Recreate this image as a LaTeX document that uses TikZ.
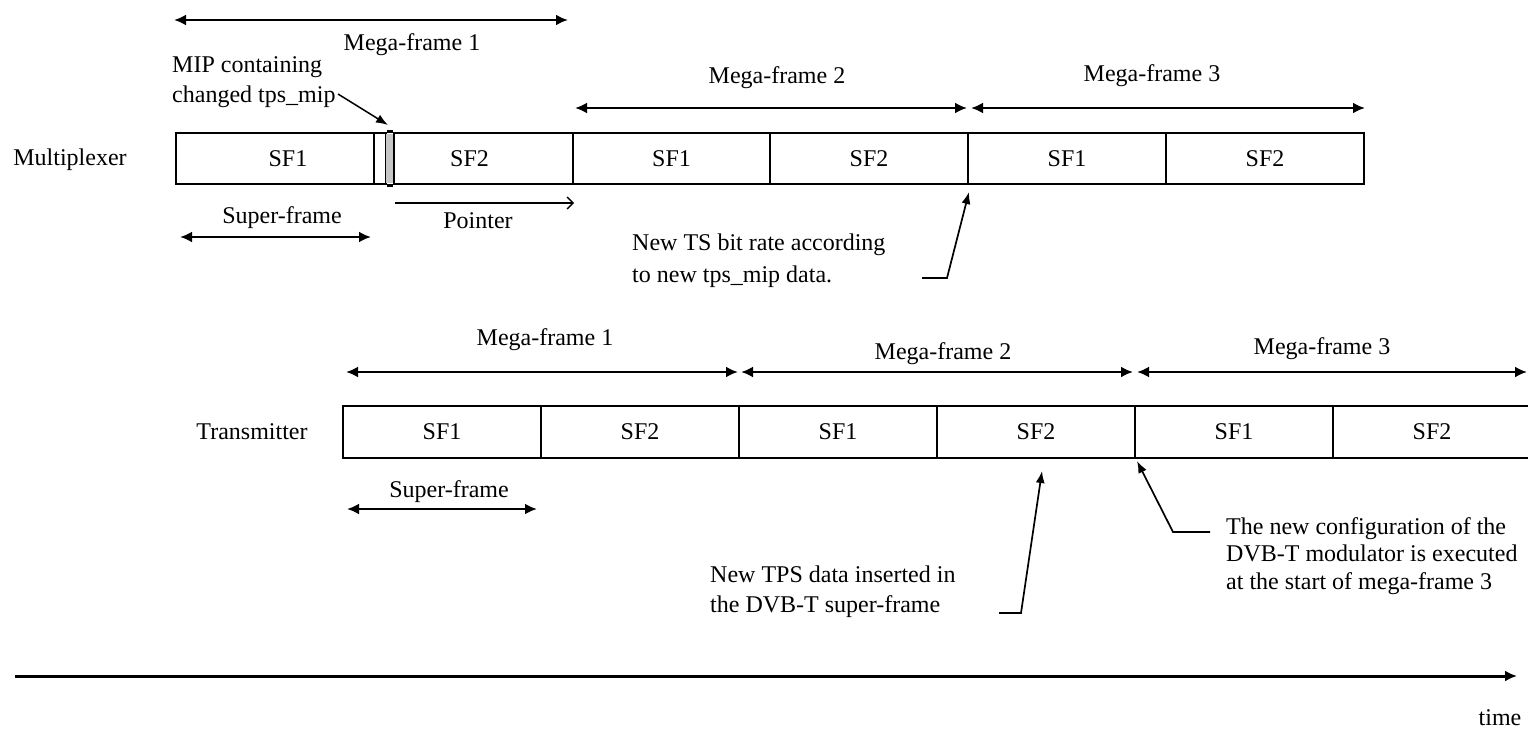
\documentclass[tikz,border=0pt]{standalone}
\usepackage{fontspec}
\setmainfont{Liberation Serif}
\usetikzlibrary{arrows.meta}
\begin{document}
\begin{tikzpicture}[x=1pt,y=-1pt,
  cell/.style={draw,line width=2.7pt,minimum height=51pt,inner sep=0pt,font=\fontsize{24}{28}\selectfont},
  lbl/.style={inner sep=0pt,font=\fontsize{24}{28}\selectfont},
  dim/.style={line width=2.6pt,{Latex[length=12pt,width=11pt]}-{Latex[length=12pt,width=11pt]}},
  annot/.style={line width=1.7pt,-{Latex[length=12pt,width=9pt]}},
  ptr/.style={line width=1.4pt,-{Straight Barb[length=6pt,width=12pt]}},
]
\useasboundingbox (0,0) rectangle (1528,728);
% ---------------- Multiplexer ----------------
\node[lbl] (mux) at (70,160) {Multiplexer};
\node[cell,minimum width=198pt] (m1) at (275,158.5) {\hspace*{26pt}SF1};
\node[cell,minimum width=12pt] (mgap) at (380,158.5) {};
\node[fill=gray!45,minimum width=8pt,minimum height=49pt,inner sep=0pt] (mip) at (390,158.5) {};
\node[cell,minimum width=179pt] (m2) at (483.5,158.5) {SF2\hspace*{28pt}};
\draw[line width=2.7pt] (mgap.north east) -- (m2.north west);
\draw[line width=2.7pt] (mgap.south east) -- (m2.south west);
\draw[line width=1pt] (mip.north west) -- (mip.south west);
\node[cell,minimum width=197pt] (m3) at (671.5,158.5) {SF1};
\node[cell,minimum width=198pt] (m4) at (869,158.5) {SF2};
\node[cell,minimum width=198pt] (m5) at (1067,158.5) {SF1};
\node[cell,minimum width=198pt] (m6) at (1265,158.5) {SF2};
% mega-frames (multiplexer)
\coordinate (mf1a) at (174,20); \coordinate (mf1b) at (568,20);
\draw[dim] (mf1a) -- (mf1b);
\node[lbl] (mf1t) at (412,45) {Mega-frame 1};
\coordinate (mf2a) at (575,108); \coordinate (mf2b) at (967,108);
\draw[dim] (mf2a) -- (mf2b);
\node[lbl] (mf2t) at (777,78) {Mega-frame 2};
\coordinate (mf3a) at (971,108); \coordinate (mf3b) at (1365,108);
\draw[dim] (mf3a) -- (mf3b);
\node[lbl] (mf3t) at (1152,76) {Mega-frame 3};
% super-frame and pointer
\coordinate (sfa) at (180,237); \coordinate (sfb) at (371,237);
\draw[dim] (sfa) -- (sfb);
\node[lbl] (sft) at (282,218) {Super-frame};
\coordinate (pa) at (395,203); \coordinate (pb) at (574,203);
\draw[ptr] (pa) -- (pb);
\node[lbl] (pt) at (478,221) {Pointer};
% MIP annotation
\node[lbl,anchor=west,align=left,font=\fontsize{24}{30}\selectfont] (miptext) at (172,82) {MIP containing\\changed tps\_mip};
\coordinate (mipA) at (338,94); \coordinate (mipB) at (388,125);
\draw[annot,line width=1.5pt] (mipA) -- (mipB);
% TS bit rate annotation
\node[lbl,anchor=west,align=left,font=\fontsize{24}{32}\selectfont] (tstext) at (632,261) {New TS bit rate according\\to new tps\_mip data.};
\coordinate (tsA) at (922,278); \coordinate (tsB) at (947,278); \coordinate (tsC) at (969,192);
\draw[annot] (tsA) -- (tsB) -- (tsC);
% ---------------- Transmitter ----------------
\node[lbl] (tx) at (252,432) {Transmitter};
\node[cell,minimum width=198pt,minimum height=52pt] (t1) at (442,432) {SF1};
\node[cell,minimum width=198pt,minimum height=52pt] (t2) at (640,432) {SF2};
\node[cell,minimum width=198pt,minimum height=52pt] (t3) at (838,432) {SF1};
\node[cell,minimum width=198pt,minimum height=52pt] (t4) at (1036,432) {SF2};
\node[cell,minimum width=198pt,minimum height=52pt] (t5) at (1234,432) {SF1};
\node[cell,minimum width=198pt,minimum height=52pt] (t6) at (1432,432) {SF2};
% mega-frames (transmitter)
\coordinate (tmf1a) at (346,372); \coordinate (tmf1b) at (738,372);
\draw[dim] (tmf1a) -- (tmf1b);
\node[lbl] (tmf1t) at (545,340) {Mega-frame 1};
\coordinate (tmf2a) at (741,372); \coordinate (tmf2b) at (1133,372);
\draw[dim] (tmf2a) -- (tmf2b);
\node[lbl] (tmf2t) at (943,354) {Mega-frame 2};
\coordinate (tmf3a) at (1137,372); \coordinate (tmf3b) at (1527,372);
\draw[dim] (tmf3a) -- (tmf3b);
\node[lbl] (tmf3t) at (1322,349) {Mega-frame 3};
% super-frame
\coordinate (tsfa) at (347,509); \coordinate (tsfb) at (537,509);
\draw[dim] (tsfa) -- (tsfb);
\node[lbl] (tsft) at (449,492) {Super-frame};
% TPS annotation
\node[lbl,anchor=west,align=left,font=\fontsize{24}{30}\selectfont] (tpstext) at (710,592) {New TPS data inserted in\\the DVB-T super-frame};
\coordinate (tpsA) at (999,613); \coordinate (tpsB) at (1021,613); \coordinate (tpsC) at (1042,471);
\draw[annot] (tpsA) -- (tpsB) -- (tpsC);
% DVB-T annotation
\node[lbl,anchor=west,align=left,font=\fontsize{24}{27.5}\selectfont] (dvbtext) at (1226,556) {The new configuration of the\\DVB-T modulator is executed\\at the start of mega-frame 3};
\coordinate (dvA) at (1210,532); \coordinate (dvB) at (1173,532); \coordinate (dvC) at (1137,461);
\draw[annot] (dvA) -- (dvB) -- (dvC);
% ---------------- time axis ----------------
\coordinate (ta) at (15,676); \coordinate (tb) at (1517,676);
\draw[line width=3pt,-{Latex[length=12pt,width=11pt]}] (ta) -- (tb);
\node[lbl] (timet) at (1500,718) {time};
\end{tikzpicture}
\end{document}
